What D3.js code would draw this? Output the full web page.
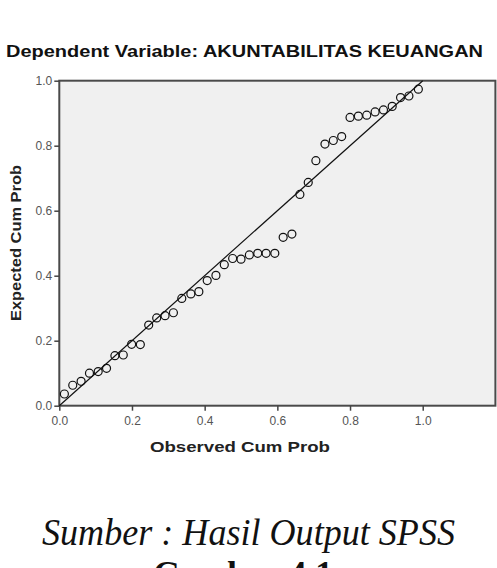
<!DOCTYPE html>
<html>
<head>
<meta charset="utf-8">
<script src="https://cdn.jsdelivr.net/npm/d3@7"></script>
<style>
  body { margin: 0; background: #fff; }
  svg { display: block; }
</style>
</head>
<body>
<div class="chart"></div>
<script>
// observed vs expected cumulative probability
const observed = [0.014, 0.037, 0.060, 0.083, 0.107, 0.130, 0.153, 0.176, 0.199, 0.223,
    0.246, 0.268, 0.291, 0.314, 0.337, 0.362, 0.384, 0.407, 0.431, 0.454,
    0.477, 0.500, 0.523, 0.546, 0.569, 0.593, 0.616, 0.640, 0.662, 0.685,
    0.706, 0.731, 0.754, 0.777, 0.800, 0.823, 0.846, 0.869, 0.892, 0.916,
    0.939, 0.962, 0.988];
const expected = [0.036, 0.063, 0.075, 0.100, 0.105, 0.115, 0.154, 0.156, 0.189, 0.188,
    0.248, 0.270, 0.277, 0.286, 0.330, 0.344, 0.351, 0.385, 0.401, 0.434,
    0.453, 0.451, 0.464, 0.469, 0.469, 0.469, 0.518, 0.528, 0.650, 0.687,
    0.754, 0.805, 0.816, 0.828, 0.887, 0.891, 0.894, 0.904, 0.910, 0.921,
    0.948, 0.953, 0.974];
const xTicks = [0.0, 0.2, 0.4, 0.6, 0.8, 1.0];
const yTicks = [0.0, 0.2, 0.4, 0.6, 0.8, 1.0];

const w = 497;
const h = 568;

const svg = d3.select('.chart')
    .append('svg')
    .attr('width', w)
    .attr('height', h);

const xScale = d3.scaleLinear().domain([0, 1.2]).range([59.3, 495.4]);
const yScale = d3.scaleLinear().domain([0, 1]).range([405.7, 80.7]);

// title
svg.append('text')
    .attr('x', 6)
    .attr('y', 57)
    .attr('textLength', 477)
    .attr('lengthAdjust', 'spacingAndGlyphs')
    .style('font-family', 'Liberation Sans, Arial, sans-serif')
    .style('font-weight', 'bold')
    .style('font-size', '16.5px')
    .style('fill', '#111')
    .text('Dependent Variable: AKUNTABILITAS KEUANGAN');

// plot background + frame
svg.append('rect')
    .attr('x', xScale(0))
    .attr('y', yScale(1))
    .attr('width', xScale(1.2) - xScale(0))
    .attr('height', yScale(0) - yScale(1))
    .style('fill', '#f0f0f0')
    .style('stroke', '#4a4a4a')
    .style('stroke-width', 2);

// axes
const xAxis = d3.axisBottom(xScale)
    .tickValues(xTicks)
    .tickSize(5)
    .tickPadding(6)
    .tickFormat(d3.format('.1f'));

const yAxis = d3.axisLeft(yScale)
    .tickValues(yTicks)
    .tickSize(5)
    .tickPadding(2)
    .tickFormat(d3.format('.1f'));

const gx = svg.append('g')
    .attr('transform', `translate(0, ${yScale(0)})`)
    .call(xAxis);

const gy = svg.append('g')
    .attr('transform', `translate(${xScale(0)}, 0)`)
    .call(yAxis);

[gx, gy].forEach(g => {
    g.select('.domain').remove();
    g.selectAll('line').style('stroke', '#444').style('stroke-width', 1.5);
    g.selectAll('text')
        .style('font-family', 'Liberation Sans, Arial, sans-serif')
        .style('font-size', '12px')
        .style('fill', '#555');
});

// reference diagonal
svg.append('line')
    .attr('x1', xScale(0))
    .attr('y1', yScale(0))
    .attr('x2', xScale(1))
    .attr('y2', yScale(1))
    .style('stroke', '#111')
    .style('stroke-width', 1.2);

// points
svg.selectAll('.dot')
    .data(observed)
    .enter().append('circle')
    .attr('class', 'dot')
    .attr('r', 4)
    .attr('cx', d => xScale(d))
    .attr('cy', (d, i) => yScale(expected[i]))
    .style('fill', 'none')
    .style('stroke', '#111')
    .style('stroke-width', 1.2);

// axis labels
svg.append('text')
    .attr('x', 150)
    .attr('y', 452)
    .attr('textLength', 180)
    .attr('lengthAdjust', 'spacingAndGlyphs')
    .style('font-family', 'Liberation Sans, Arial, sans-serif')
    .style('font-weight', 'bold')
    .style('font-size', '15px')
    .style('fill', '#222')
    .text('Observed Cum Prob');

svg.append('text')
    .attr('transform', 'rotate(-90)')
    .attr('x', -243 - 78)
    .attr('y', 21)
    .attr('textLength', 156)
    .attr('lengthAdjust', 'spacingAndGlyphs')
    .style('font-family', 'Liberation Sans, Arial, sans-serif')
    .style('font-weight', 'bold')
    .style('font-size', '15px')
    .style('fill', '#222')
    .text('Expected Cum Prob');

// caption
svg.append('text')
    .attr('x', 42)
    .attr('y', 545)
    .attr('textLength', 413)
    .attr('lengthAdjust', 'spacingAndGlyphs')
    .style('font-family', 'Liberation Serif, Times New Roman, serif')
    .style('font-style', 'italic')
    .style('font-size', '38px')
    .style('fill', '#111')
    .text('Sumber : Hasil Output SPSS');

svg.append('text')
    .attr('x', 153)
    .attr('y', 586)
    .attr('textLength', 180)
    .attr('lengthAdjust', 'spacingAndGlyphs')
    .style('font-family', 'Liberation Serif, Times New Roman, serif')
    .style('font-weight', 'bold')
    .style('font-size', '36px')
    .style('fill', '#111')
    .text('Gambar 4.1');
</script>
</body>
</html>
